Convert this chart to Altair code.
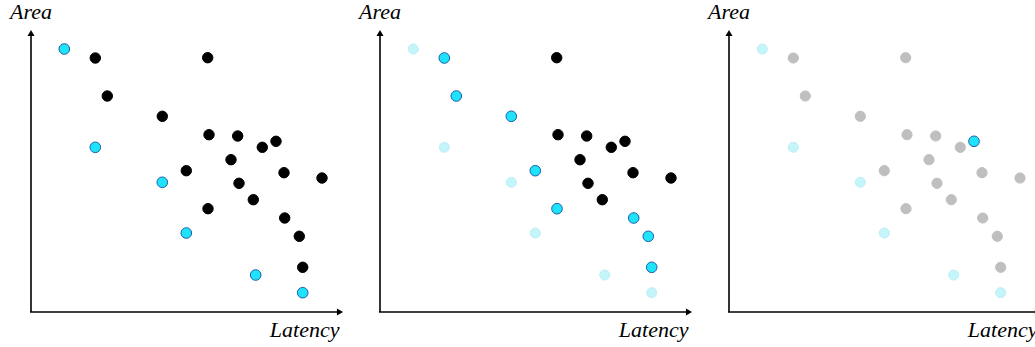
import altair as alt
import pandas as pd

# Values (latency: px right of the origin, area: px above it)
latency = [33.3, 64.3, 131.3, 155.3, 224.7, 271.7,
           64.3, 176.7, 76.3, 131.3, 178.0, 206.7, 245.0, 231.3, 200.0, 155.3,
           253.0, 291.0, 208.0, 222.3, 177.0, 253.7, 268.3, 271.7]
area = [263.0, 164.7, 129.7, 79.0, 37.0, 19.3,
        254.0, 254.3, 216.0, 195.7, 177.3, 176.0, 170.7, 164.7, 152.3, 141.3,
        139.3, 134.0, 128.7, 112.3, 103.3, 94.0, 75.7, 44.7]
group = ["A"] * 6 + ["B", "C", "B", "B", "C", "C", "D", "C", "C", "B",
                     "C", "C", "C", "C", "B", "B", "B", "B"]

panel_styles = [
    {"A": "cyan", "B": "black", "C": "black", "D": "black"},
    {"A": "light", "B": "cyan", "C": "black", "D": "black"},
    {"A": "light", "B": "gray", "C": "gray", "D": "cyan"},
]
style_names = ["light", "gray", "black", "cyan"]
fill_colors = ["#c4f5fb", "#bfbfbf", "#000000", "#1fe3fb"]
stroke_colors = ["#bdeef6", "#bfbfbf", "#000000", "#1d5fa8"]
sizes = [100, 113, 113, 88]
order_rank = {"light": 0, "gray": 1, "black": 2, "cyan": 3}

rows = []
for i in range(len(latency)):
    row = {"latency": latency[i], "area": area[i], "group": group[i]}
    for p, st in enumerate(panel_styles):
        row[f"style{p}"] = st[group[i]]
        row[f"rank{p}"] = order_rank[st[group[i]]]
    rows.append(row)
df = pd.DataFrame(rows)

widths = [349, 349, 337]
H = 347
X0 = 31   # origin offset from panel left, px
Y0 = 35   # origin offset from panel bottom, px

axis_x_end = 309
axis_y_end = 279
FONT = "Liberation Serif"


def panel(p):
    W = widths[p]
    clip = p == 2
    xs = alt.Scale(domain=[-X0, W - X0], nice=False, zero=False)
    ys = alt.Scale(domain=[-Y0, H - Y0], nice=False, zero=False)
    X = lambda f: alt.X(f, scale=xs, axis=None)
    Y = lambda f: alt.Y(f, scale=ys, axis=None)

    axes_df = pd.DataFrame({"x": [-1, 0], "x2": [axis_x_end, 0],
                            "y": [0, 0], "y2": [0, axis_y_end]})
    lines = alt.Chart(axes_df).mark_rule(color="black", strokeWidth=1.6, clip=clip).encode(
        x=X("x:Q"), x2="x2:Q", y=Y("y:Q"), y2="y2:Q")

    up = alt.Chart(pd.DataFrame({"x": [0], "y": [axis_y_end]})).mark_point(
        shape="triangle-up", filled=True, color="black", size=50, opacity=1, clip=clip
    ).encode(x=X("x:Q"), y=Y("y:Q"))
    right = alt.Chart(pd.DataFrame({"x": [axis_x_end], "y": [0]})).mark_point(
        shape="triangle-right", filled=True, color="black", size=50, opacity=1, clip=clip
    ).encode(x=X("x:Q"), y=Y("y:Q"))

    area_lbl = alt.Chart(pd.DataFrame({"x": [-21], "y": [293], "t": ["Area"]})).mark_text(
        font=FONT, fontStyle="italic", fontSize=22, align="left",
        baseline="alphabetic", color="black", clip=clip
    ).encode(x=X("x:Q"), y=Y("y:Q"), text="t:N")
    lat_lbl = alt.Chart(pd.DataFrame({"x": [308.5], "y": [-24.5], "t": ["Latency"]})).mark_text(
        font=FONT, fontStyle="italic", fontSize=22, align="right",
        baseline="alphabetic", color="black", clip=clip
    ).encode(x=X("x:Q"), y=Y("y:Q"), text="t:N")

    pts = alt.Chart(df).mark_point(filled=True, opacity=1, strokeWidth=1).encode(
        x=X("latency:Q"),
        y=Y("area:Q"),
        fill=alt.Fill(f"style{p}:N", scale=alt.Scale(domain=style_names, range=fill_colors), legend=None),
        stroke=alt.Stroke(f"style{p}:N", scale=alt.Scale(domain=style_names, range=stroke_colors), legend=None),
        size=alt.Size(f"style{p}:N", scale=alt.Scale(domain=style_names, range=sizes), legend=None),
        order=alt.Order(f"rank{p}:Q"),
    )
    return alt.layer(lines, up, right, area_lbl, lat_lbl, pts).properties(width=W, height=H)


chart = alt.hconcat(*[panel(p) for p in range(3)], spacing=0, bounds="flush").properties(
    padding=0
).configure_view(stroke=None)

chart.save("out.html", embed_options={"renderer": "svg", "actions": False})
